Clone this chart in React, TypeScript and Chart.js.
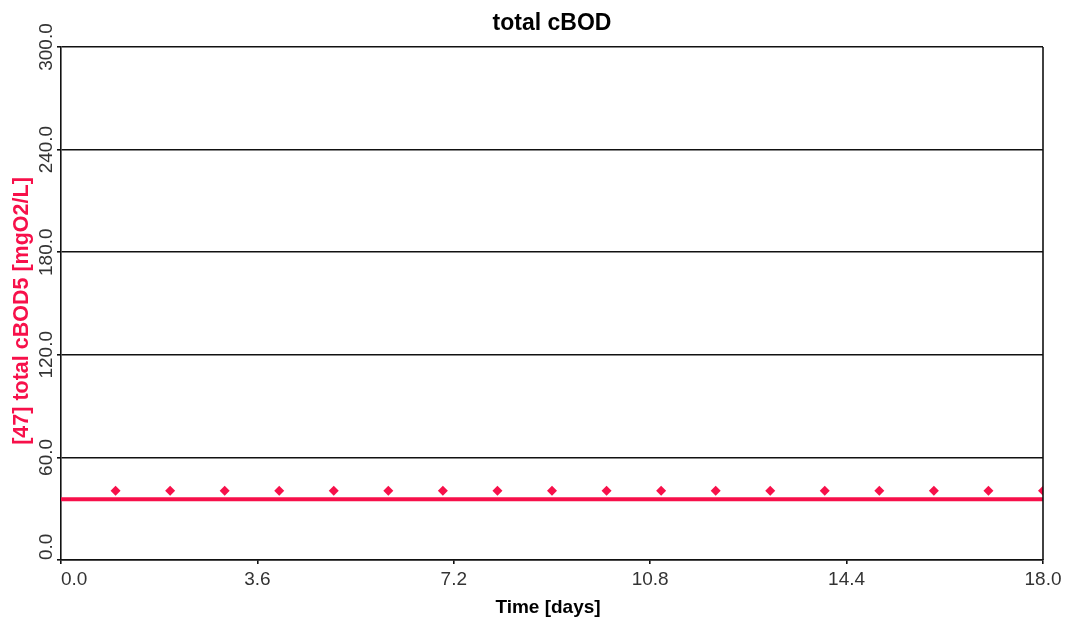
import React, { useEffect, useRef } from "react";
import { Chart, registerables } from "chart.js";

Chart.register(...registerables);

// Simulated total cBOD5 (continuous curve) and observed samples (diamonds)
const modelDays = [0, 1, 2, 3, 4, 5, 6, 7, 8, 9, 10, 11, 12, 13, 14, 15, 16, 17, 18];
const modelValues = [35.5, 35.5, 35.5, 35.5, 35.5, 35.5, 35.5, 35.5, 35.5, 35.5, 35.5, 35.5, 35.5, 35.5, 35.5, 35.5, 35.5, 35.5, 35.5];
const sampleDays = [1, 2, 3, 4, 5, 6, 7, 8, 9, 10, 11, 12, 13, 14, 15, 16, 17, 18];
const sampleValues = [40.5, 40.5, 40.5, 40.5, 40.5, 40.5, 40.5, 40.5, 40.5, 40.5, 40.5, 40.5, 40.5, 40.5, 40.5, 40.5, 40.5, 40.5];

const xTickValues = [0, 3.6, 7.2, 10.8, 14.4, 18.0];
const yTickValues = [0, 60, 120, 180, 240, 300];

const chartTitle = "total cBOD";
const xAxisTitle = "Time [days]";
const yAxisTitle = "[47] total cBOD5 [mgO2/L]";

const SERIES_COLOR = "#f7104a";
const LINE_COLOR = "#111";
const LINE_WIDTH = 1.6;
const FONT = "'Liberation Sans', Arial, sans-serif";

// Draws the titles, tick labels and the right frame edge on top of the chart
const textPlugin = {
  id: "axisText",
  afterDraw(chart: any) {
    const { ctx, chartArea } = chart;
    const xs = chart.scales.x;
    const ys = chart.scales.y;
    ctx.save();

    // right frame edge
    ctx.strokeStyle = LINE_COLOR;
    ctx.lineWidth = LINE_WIDTH;
    ctx.beginPath();
    ctx.moveTo(chartArea.right, chartArea.top);
    ctx.lineTo(chartArea.right, chartArea.bottom);
    ctx.stroke();

    // chart title
    ctx.fillStyle = "#000";
    ctx.font = `bold 23px ${FONT}`;
    ctx.textAlign = "center";
    ctx.textBaseline = "alphabetic";
    ctx.fillText(chartTitle, (chartArea.left + chartArea.right) / 2, 30);

    // x axis title
    ctx.font = `bold 19px ${FONT}`;
    ctx.fillText(xAxisTitle, 548, 613);

    // x tick labels
    ctx.fillStyle = "#333";
    ctx.font = `19px ${FONT}`;
    xs.ticks.forEach((t: any, i: number) => {
      const px = xs.getPixelForValue(t.value);
      ctx.textAlign = i === 0 ? "left" : "center";
      ctx.fillText(t.value.toFixed(1), px, 585);
    });

    // y tick labels (rotated)
    ys.ticks.forEach((t: any, i: number) => {
      const py = ys.getPixelForValue(t.value);
      ctx.save();
      ctx.translate(52, py);
      ctx.rotate(-Math.PI / 2);
      ctx.textAlign = i === 0 ? "left" : "center";
      ctx.fillText(t.value.toFixed(1), 0, 0);
      ctx.restore();
    });

    // y axis title (rotated)
    ctx.save();
    ctx.fillStyle = SERIES_COLOR;
    ctx.font = `bold 21.5px ${FONT}`;
    ctx.translate(28, 311);
    ctx.rotate(-Math.PI / 2);
    ctx.textAlign = "center";
    ctx.fillText(yAxisTitle, 0, 0);
    ctx.restore();

    ctx.restore();
  },
};

export default function App() {
  const canvasRef = useRef<HTMLCanvasElement | null>(null);

  useEffect(() => {
    const canvas = canvasRef.current;
    if (!canvas) return;
    const chart = new Chart(canvas, {
      type: "line",
      data: {
        datasets: [
          {
            label: "simulated",
            data: modelDays.map((d, i) => ({ x: d, y: modelValues[i] })),
            borderColor: SERIES_COLOR,
            backgroundColor: SERIES_COLOR,
            borderWidth: 4,
            pointRadius: 0,
            tension: 0,
            clip: 0,
          },
          {
            label: "observed",
            data: sampleDays.map((d, i) => ({ x: d, y: sampleValues[i] })),
            showLine: false,
            pointStyle: "rectRot",
            pointRadius: 5,
            pointBorderWidth: 0,
            pointBackgroundColor: SERIES_COLOR,
            pointBorderColor: SERIES_COLOR,
            clip: 0,
          },
        ],
      },
      options: {
        responsive: false,
        animation: false,
        devicePixelRatio: 1,
        layout: { padding: { left: 0, top: 47, right: 29, bottom: 0 } },
        plugins: {
          legend: { display: false },
          tooltip: { enabled: false },
          title: { display: false },
        },
        scales: {
          x: {
            type: "linear",
            min: 0,
            max: 18,
            afterBuildTicks: (scale: any) => {
              scale.ticks = xTickValues.map((v) => ({ value: v }));
            },
            afterFit: (scale: any) => {
              scale.height = 63;
            },
            ticks: { display: false },
            grid: {
              drawOnChartArea: false,
              drawTicks: true,
              tickLength: 4,
              color: LINE_COLOR,
              lineWidth: LINE_WIDTH,
            },
            border: { display: true, color: LINE_COLOR, width: LINE_WIDTH },
          },
          y: {
            type: "linear",
            min: 0,
            max: 300,
            afterBuildTicks: (scale: any) => {
              scale.ticks = yTickValues.map((v) => ({ value: v }));
            },
            afterFit: (scale: any) => {
              scale.width = 61;
            },
            ticks: { display: false },
            grid: {
              drawOnChartArea: true,
              drawTicks: true,
              tickLength: 4,
              color: LINE_COLOR,
              lineWidth: LINE_WIDTH,
            },
            border: { display: true, color: LINE_COLOR, width: LINE_WIDTH },
          },
        },
      },
      plugins: [textPlugin],
    });
    return () => chart.destroy();
  }, []);

  return (
    <div style={{ position: "fixed", left: 0, top: 0, width: 1072, height: 623, background: "#fff" }}>
      <canvas ref={canvasRef} width={1072} height={623} style={{ display: "block" }} />
    </div>
  );
}
